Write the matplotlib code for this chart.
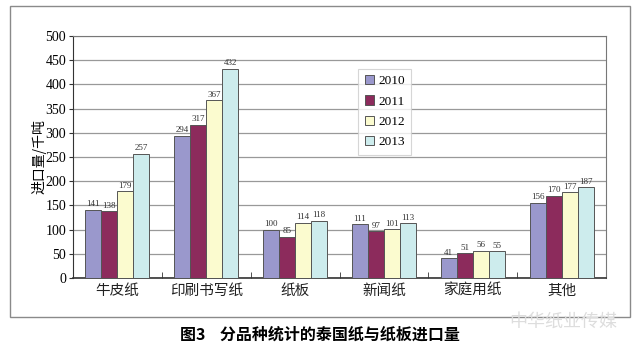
import numpy as np
import matplotlib.pyplot as plt
from matplotlib.patches import Rectangle

plt.rcParams['font.family'] = ['Liberation Serif', 'Noto Sans CJK SC', 'DejaVu Sans']

categories = ['牛皮纸', '印刷书写纸', '纸板', '新闻纸', '家庭用纸', '其他']
years = ['2010', '2011', '2012', '2013']
v2010 = [141, 294, 100, 111, 41, 156]
v2011 = [138, 317, 85, 97, 51, 170]
v2012 = [179, 367, 114, 101, 56, 177]
v2013 = [257, 432, 118, 113, 55, 187]
colors = ['#9a98cc', '#8c2b5c', '#fbfbcf', '#cdeced']


def main():
    fig = plt.figure(figsize=(6.4, 3.56), dpi=100)
    # outer frame
    fig.patches.append(Rectangle((0.0156, 0.110), 0.969, 0.874, transform=fig.transFigure,
                                 fill=False, edgecolor='#8a8a8a', linewidth=1.0))
    ax = fig.add_axes([0.114, 0.219, 0.833, 0.680])

    x = np.arange(len(categories))
    w = 0.18
    series = [v2010, v2011, v2012, v2013]
    for i, (vals, yr, c) in enumerate(zip(series, years, colors)):
        pos = x + (i - 1.5) * w
        bars = ax.bar(pos, vals, w, color=c, edgecolor='#555555', linewidth=0.7,
                      label=yr, zorder=3)
        for b, v in zip(bars, vals):
            ax.text(b.get_x() + b.get_width() / 2, v + 3, str(v), ha='center',
                    va='bottom', fontsize=6.5, color='#333333', zorder=4)

    ax.set_xlim(-0.5, len(categories) - 0.5)
    ax.set_ylim(0, 500)
    ax.set_yticks(np.arange(0, 501, 50))
    ax.tick_params(axis='y', labelsize=10, length=3, color='#333333', pad=2)
    ax.set_xticks(x)
    ax.set_xticklabels(categories, fontsize=10.5, family=['Noto Sans CJK SC'], color='#222222')
    ax.tick_params(axis='x', length=0, pad=4)
    # small separator ticks between categories
    ax.set_xticks(np.arange(0.5, len(categories) - 0.5, 1), minor=True)
    ax.tick_params(axis='x', which='minor', direction='in', length=4, color='#333333')
    ax.grid(axis='y', color='#999999', linewidth=0.9, zorder=0)
    ax.set_axisbelow(True)
    for s in ['top', 'right']:
        ax.spines[s].set_color('#777777')
    ax.spines['left'].set_color('#333333')
    ax.spines['bottom'].set_color('#333333')
    ax.spines['bottom'].set_linewidth(1.2)

    ax.set_ylabel('进口量/千吨', fontsize=10, family=['Noto Sans CJK SC'], labelpad=-1)

    leg = ax.legend(loc='upper left', bbox_to_anchor=(0.535, 0.865), fontsize=9.5,
                    frameon=True, fancybox=False, edgecolor='#cccccc',
                    handlelength=0.7, handleheight=0.7, handletextpad=0.3,
                    labelspacing=0.6, borderpad=0.5, borderaxespad=0)
    leg.get_frame().set_linewidth(0.8)

    fig.text(0.5, 0.06, '图3    分品种统计的泰国纸与纸板进口量', ha='center', va='center',
             fontsize=11.5, fontweight='bold', family=['Noto Sans CJK SC'])
    fig.text(0.88, 0.095, '中华纸业传媒', ha='center', va='center', fontsize=13,
             color='#dddddd', family=['Noto Sans CJK SC'])

    fig.savefig('out.png', dpi=100)


if __name__ == '__main__':
    main()
